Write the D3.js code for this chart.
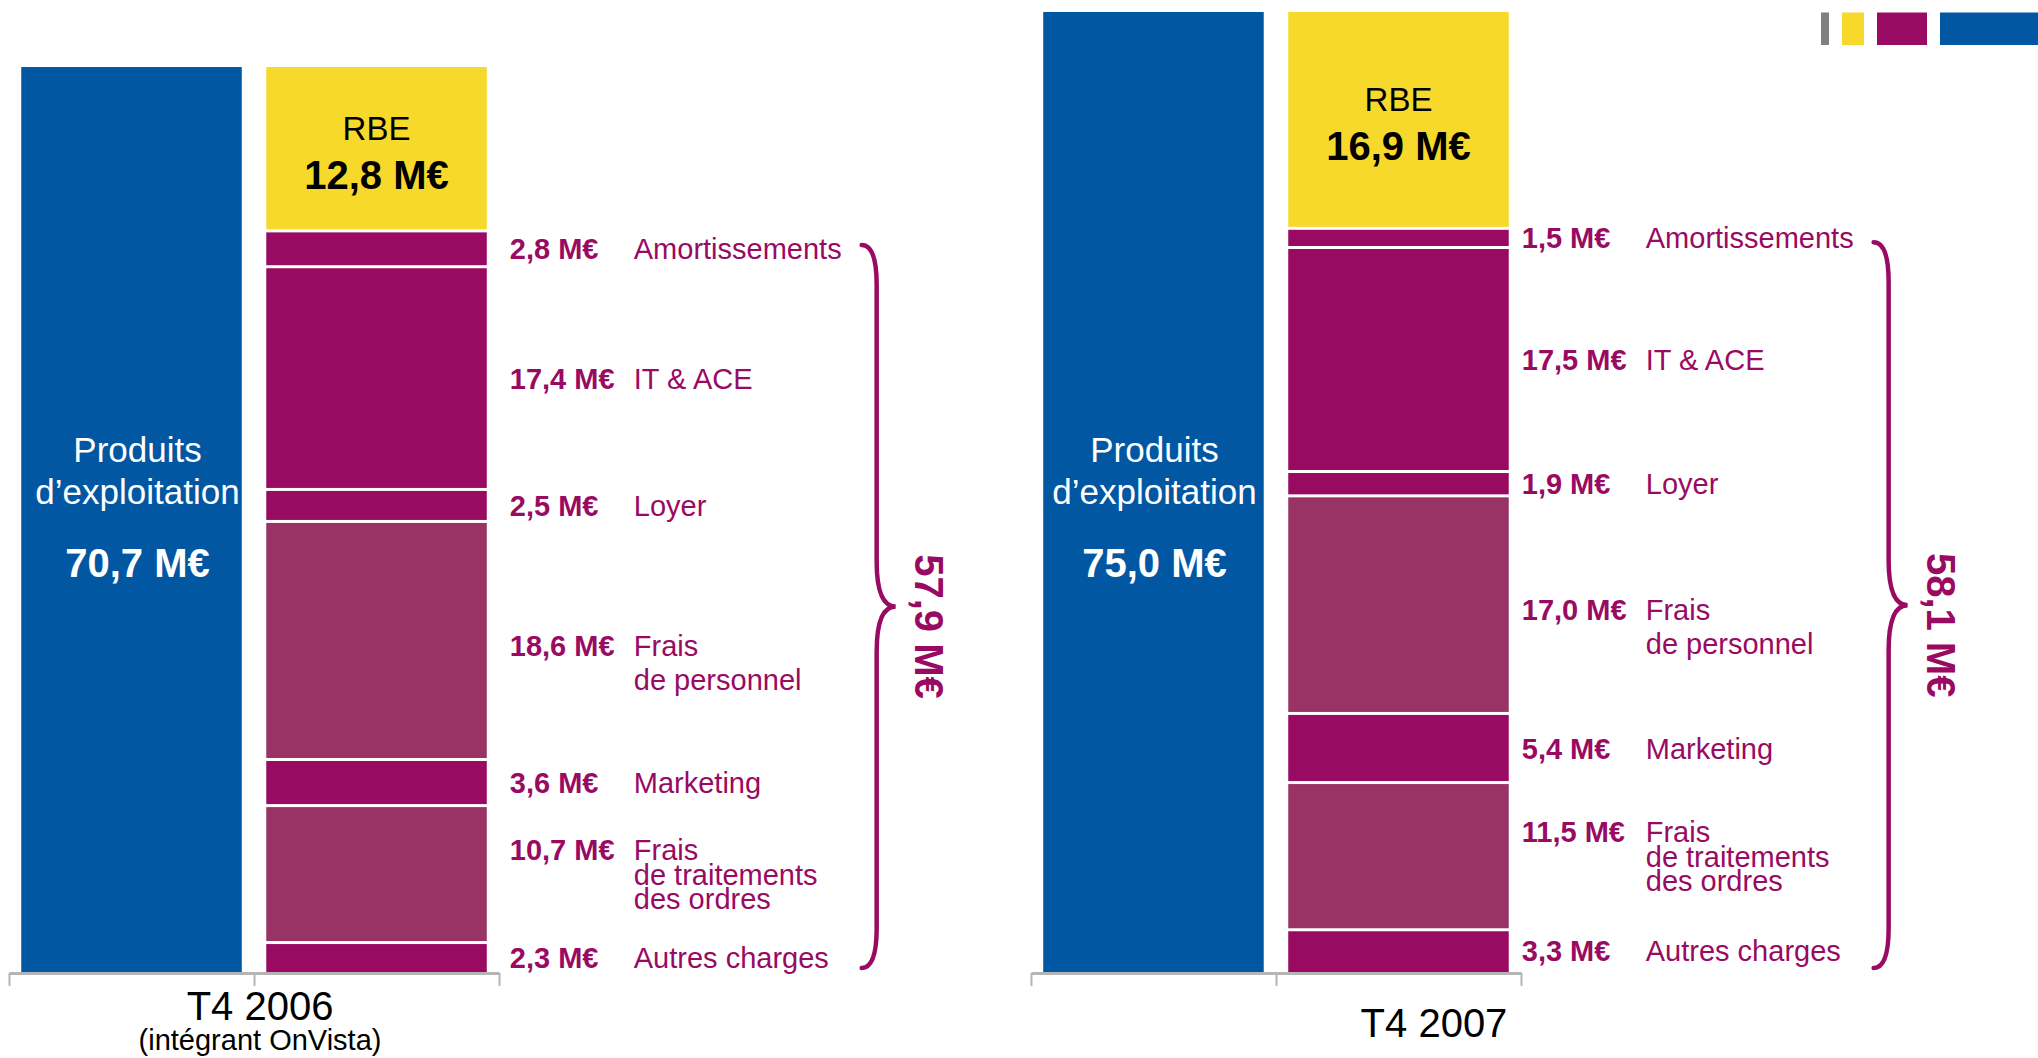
<!DOCTYPE html>
<html>
<head>
<meta charset="utf-8">
<script src="https://cdn.jsdelivr.net/npm/d3@7"></script>
<style>
  body { margin: 0; background: #fff; }
  svg { display: block; }
  text { font-family: "Liberation Sans", Arial, sans-serif; }
</style>
</head>
<body>
<script>
// data
const periods = ['T4 2006', 'T4 2007'];
const periodNotes = ['(intégrant OnVista)', ''];
const produits = [70.7, 75.0];
const rbe = [12.8, 16.9];
const chargeNames = ['Amortissements', 'IT & ACE', 'Loyer', 'Frais\nde personnel',
  'Marketing', 'Frais\nde traitements\ndes ordres', 'Autres charges'];
const chargeKinds = ['dark', 'dark', 'dark', 'light', 'dark', 'light', 'dark'];
const charges2006 = [2.8, 17.4, 2.5, 18.6, 3.6, 10.7, 2.3];
const charges2007 = [1.5, 17.5, 1.9, 17.0, 5.4, 11.5, 3.3];
const chargesTotal = [57.9, 58.1];
const charges = [charges2006, charges2007];

const colors = {
  blue: '#0257a3', yellow: '#f6d92a', dark: '#990a62', light: '#993366',
  text: '#990a62', axis: '#b5b5b5',
};

// small per-panel layout tweaks
const panelLayout = {
  'T4 2006': { valueDx: 23, titleDx: 6, titleY: 1020, prodDx: 6 },
  'T4 2007': { valueDx: 13, titleDx: 158, titleY: 1037, prodDx: 1 },
};

const width = 2038;
const height = 1058;

const svg = d3.select('body').append('svg')
  .attr('width', width)
  .attr('height', height);

const fmt = v => `${v.toFixed(1).replace('.', ',')} M€`;

// scales
const y = d3.scaleLinear().domain([0, 75]).range([972, 12]);
const x = d3.scaleBand().domain(periods).range([9, 1521])
  .paddingInner(0.5205).paddingOuter(0);
const xIn = d3.scaleBand().domain(['produits', 'charges'])
  .range([0, x.bandwidth()]).paddingInner(0.1).paddingOuter(0.05);

const gap = 1.5;

periods.forEach((p, i) => {
  const lay = panelLayout[p];
  const g = svg.append('g').attr('transform', `translate(${x(p)},0)`);

  // axis
  const axisScale = d3.scaleLinear().domain([0, 2]).range([0, x.bandwidth()]);
  const ax = g.append('g')
    .attr('transform', `translate(0,${y(0) + 1})`)
    .call(d3.axisBottom(axisScale).tickValues([0, 1, 2]).tickSize(13)
      .tickSizeOuter(0).tickFormat(''));
  ax.select('.domain').attr('stroke', colors.axis).attr('stroke-width', 3);
  ax.selectAll('.tick line').attr('stroke', colors.axis).attr('stroke-width', 2);

  // produits bar
  const bx = xIn('produits');
  g.append('rect')
    .attr('x', bx)
    .attr('y', y(produits[i]))
    .attr('width', xIn.bandwidth())
    .attr('height', y(0) - y(produits[i]))
    .attr('fill', colors.blue);

  const pcx = bx + xIn.bandwidth() / 2 + lay.prodDx;
  const prodText = [
    { t: 'Produits', dy: 510, size: 35, w: 'normal' },
    { t: 'd’exploitation', dy: 468, size: 35, w: 'normal' },
    { t: fmt(produits[i]), dy: 395, size: 40, w: 'bold' },
  ];
  prodText.forEach((d) => {
    g.append('text')
      .attr('x', pcx)
      .attr('y', y(0) - d.dy)
      .attr('text-anchor', 'middle')
      .style('font-size', `${d.size}px`)
      .style('font-weight', d.w)
      .style('fill', '#fff')
      .text(d.t);
  });

  // charges stack (bottom up)
  const cx = xIn('charges');
  const vals = charges[i];
  const n = vals.length;
  const segs = [];
  let cum = 0;
  for (let k = n - 1; k >= 0; k -= 1) {
    segs.push({
      name: chargeNames[k], kind: chargeKinds[k], v: vals[k], y0: cum, y1: cum + vals[k], first: k === n - 1,
    });
    cum += vals[k];
  }
  const rbeSeg = { v: rbe[i], y0: cum, y1: cum + rbe[i] };

  g.selectAll('rect.seg')
    .data(segs)
    .enter().append('rect')
    .attr('class', 'seg')
    .attr('x', cx)
    .attr('y', d => y(d.y1) + gap)
    .attr('width', xIn.bandwidth())
    .attr('height', d => y(d.y0) - y(d.y1) - gap - (d.first ? 0 : gap))
    .attr('fill', d => colors[d.kind]);

  g.append('rect')
    .attr('x', cx)
    .attr('y', y(rbeSeg.y1))
    .attr('width', xIn.bandwidth())
    .attr('height', y(rbeSeg.y0) - y(rbeSeg.y1) - gap)
    .attr('fill', colors.yellow);

  const rcx = cx + xIn.bandwidth() / 2;
  const rcy = (y(rbeSeg.y0) + y(rbeSeg.y1)) / 2;
  g.append('text')
    .attr('x', rcx).attr('y', rcy - 9)
    .attr('text-anchor', 'middle')
    .style('font-size', '33px')
    .style('fill', '#000')
    .text('RBE');
  g.append('text')
    .attr('x', rcx).attr('y', rcy + 40)
    .attr('text-anchor', 'middle')
    .style('font-size', '40px')
    .style('font-weight', 'bold')
    .style('fill', '#000')
    .text(fmt(rbe[i]));

  // segment labels
  const vx = cx + xIn.bandwidth() + lay.valueDx;
  const nx = vx + 124;
  let maxRight = 0;
  segs.forEach((d) => {
    const lines = d.name.split('\n');
    const lh = lines.length === 2 ? 34 : 24.5;
    const shift = lines.length === 2 ? 22 : 0;
    const mid = (y(d.y0) + y(d.y1)) / 2;
    const base = mid - ((lines.length - 1) * lh) / 2 + 10.5 + shift;
    g.append('text')
      .attr('x', vx).attr('y', base)
      .style('font-size', '29px')
      .style('font-weight', 'bold')
      .style('fill', colors.text)
      .text(fmt(d.v));
    lines.forEach((l, j) => {
      const t = g.append('text')
        .attr('x', nx).attr('y', base + j * lh)
        .style('font-size', '29px')
        .style('fill', colors.text)
        .text(l);
      maxRight = Math.max(maxRight, nx + t.node().getComputedTextLength());
    });
  });

  // brace
  const x0 = maxRight + 20;
  const xv = x0 + 15;
  const xt = x0 + 34;
  const top = y(chargesTotal[i]) + 14;
  const bot = y(0) - 4;
  const mid = (top + bot) / 2;
  const brace = d3.path();
  brace.moveTo(x0, top);
  brace.quadraticCurveTo(xv, top, xv, top + 40);
  brace.lineTo(xv, mid - 45);
  brace.quadraticCurveTo(xv, mid, xt, mid);
  brace.quadraticCurveTo(xv, mid, xv, mid + 45);
  brace.lineTo(xv, bot - 40);
  brace.quadraticCurveTo(xv, bot, x0, bot);
  g.append('path')
    .attr('d', brace.toString())
    .attr('fill', 'none')
    .attr('stroke', colors.dark)
    .attr('stroke-width', 4.5)
    .attr('stroke-linecap', 'round');

  g.append('text')
    .attr('transform', `translate(${xt + 19},${mid + 20}) rotate(90)`)
    .attr('text-anchor', 'middle')
    .style('font-size', '40px')
    .style('font-weight', 'bold')
    .style('fill', colors.text)
    .text(fmt(chargesTotal[i]));

  // period label
  const tx = x.bandwidth() / 2 + lay.titleDx;
  g.append('text')
    .attr('x', tx).attr('y', lay.titleY)
    .attr('text-anchor', 'middle')
    .style('font-size', '40px')
    .style('fill', '#000')
    .text(p);
  if (periodNotes[i]) {
    g.append('text')
      .attr('x', tx).attr('y', lay.titleY + 30)
      .attr('text-anchor', 'middle')
      .style('font-size', '29px')
      .style('fill', '#000')
      .text(periodNotes[i]);
  }
});

// colour strip top right
const strip = [
  { c: '#808080', w: 8 }, { c: colors.yellow, w: 22 },
  { c: colors.dark, w: 50 }, { c: colors.blue, w: 98 },
];
let sx = width;
const stripPos = strip.slice().reverse().map((d) => {
  sx -= d.w;
  const pos = { ...d, x: sx };
  sx -= 13;
  return pos;
});
svg.selectAll('rect.strip')
  .data(stripPos)
  .enter().append('rect')
  .attr('class', 'strip')
  .attr('x', d => d.x)
  .attr('y', 12.5)
  .attr('width', d => d.w)
  .attr('height', 32.5)
  .attr('fill', d => d.c);
</script>
</body>
</html>
